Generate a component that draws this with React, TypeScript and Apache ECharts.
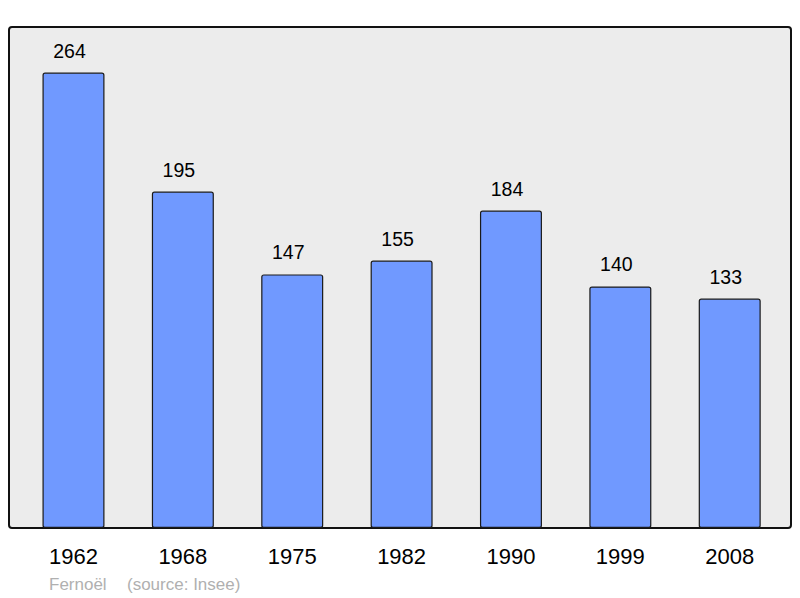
import React, { useEffect, useRef } from "react";
import * as echarts from "echarts";

const years = ["1962", "1968", "1975", "1982", "1990", "1999", "2008"];
const population = [264, 195, 147, 155, 184, 140, 133];
const footerName = "Fernoël";
const footerSource = "(source: Insee)";

export default function App() {
  const ref = useRef<HTMLDivElement>(null);
  useEffect(() => {
    if (!ref.current) return;
    const chart = echarts.init(ref.current, null, { renderer: "svg" });
    chart.setOption({
      animation: false,
      textStyle: { fontFamily: "Liberation Sans, Arial, sans-serif" },
      grid: { left: 18.8, right: 15.6, top: 27, bottom: 70, containLabel: false },
      graphic: [
        {
          type: "rect",
          z: 0,
          shape: { x: 9, y: 27, width: 782, height: 501, r: 3 },
          style: { fill: "#ececec", stroke: "#111", lineWidth: 2 },
        },
        {
          type: "text",
          z: 1,
          x: 49,
          y: 584,
          style: {
            text: footerName,
            fill: "#b0b0b0",
            font: "17px Liberation Sans, Arial, sans-serif",
            verticalAlign: "middle",
          },
        },
        {
          type: "text",
          z: 1,
          x: 127,
          y: 584,
          style: {
            text: footerSource,
            fill: "#b0b0b0",
            font: "17px Liberation Sans, Arial, sans-serif",
            verticalAlign: "middle",
          },
        },
      ],
      xAxis: {
        type: "category",
        data: years,
        axisLine: { show: false },
        axisTick: { show: false },
        axisLabel: { fontSize: 22, color: "#000", margin: 17 },
      },
      yAxis: {
        type: "value",
        min: 0,
        max: 290.4,
        show: false,
        splitLine: { show: false },
      },
      series: [
        {
          type: "bar",
          z: 5,
          data: population,
          barWidth: 62,
          itemStyle: {
            color: "#7099ff",
            borderColor: "#1a1a1a",
            borderWidth: 1.2,
            borderRadius: 2,
          },
          label: {
            show: true,
            position: "top",
            distance: 12,
            offset: [-4, 0],
            fontSize: 19.5,
            color: "#000",
          },
        },
      ],
    });
    return () => chart.dispose();
  }, []);
  return <div ref={ref} style={{ width: 800, height: 598, position: "absolute", left: 0, top: 0 }} />;
}
